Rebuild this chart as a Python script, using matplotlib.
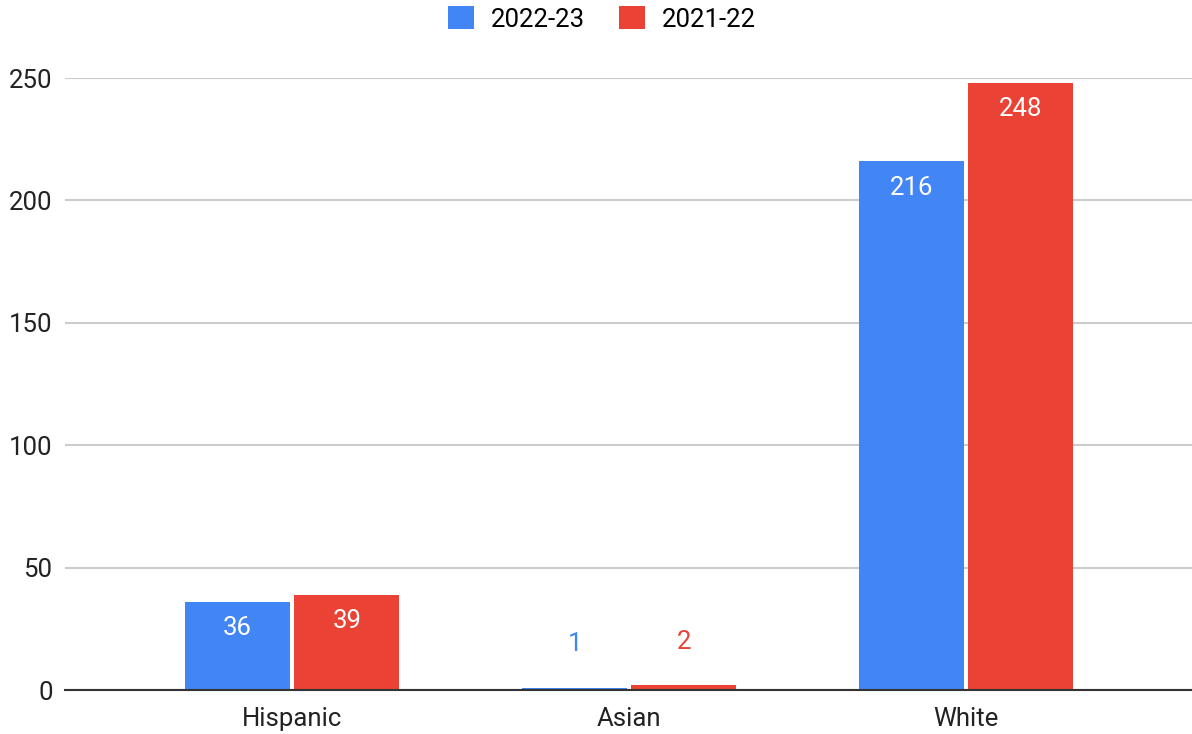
import numpy as np
import matplotlib
matplotlib.use('Agg')
import matplotlib.pyplot as plt
from matplotlib.patches import Patch

categories = ['Hispanic', 'Asian', 'White']
series_names = ['2022-23', '2021-22']
values_2022 = [36, 1, 216]
values_2021 = [39, 2, 248]
colors = ['#4285F4', '#EA4335']
y_ticks = [0, 50, 100, 150, 200, 250]

plt.rcParams['font.family'] = ['Roboto', 'DejaVu Sans']

fig = plt.figure(figsize=(11.92, 7.34), dpi=100)
ax = fig.add_axes([65 / 1192, 1 - 690 / 734, 1 - 65 / 1192, (690 - 78) / 734])

x = np.arange(len(categories))
width = 0.312
offset = 0.162
for vals, col, off in [(values_2022, colors[0], -offset), (values_2021, colors[1], offset)]:
    bars = ax.bar(x + off, vals, width, color=col, zorder=3)
    for b, v in zip(bars, vals):
        cx = b.get_x() + b.get_width() / 2
        if v > 20:
            ax.annotate(str(v), (cx, v), xytext=(0, -19), textcoords='offset points',
                        ha='center', va='center', color='white', fontsize=18.5, zorder=4)
        else:
            ax.annotate(str(v), (cx, v), xytext=(0, 31), textcoords='offset points',
                        ha='center', va='center', color=col, fontsize=18.5, zorder=4)

ax.set_xlim(-0.674, 2.67)
ax.set_ylim(0, 250)
ax.set_yticks(y_ticks)
ax.set_xticks(x)
ax.set_xticklabels(categories)
ax.tick_params(axis='both', length=0, labelsize=18.5, colors='#222222')
ax.tick_params(axis='y', pad=9)
ax.tick_params(axis='x', pad=12)
ax.yaxis.grid(True, color='#cccccc', linewidth=1.5, zorder=0)
for s in ['top', 'right', 'left']:
    ax.spines[s].set_visible(False)
ax.spines['bottom'].set_color('#333333')
ax.spines['bottom'].set_linewidth(1.5)
ax.spines['bottom'].set_zorder(5)

handles = [Patch(facecolor=c, label=n) for c, n in zip(colors, series_names)]
fig.legend(handles=handles, loc='center', bbox_to_anchor=(602 / 1192, 1 - 19 / 734),
           ncol=2, frameon=False, fontsize=18.5, handlelength=1.0, handleheight=1.0,
           handletextpad=0.65, columnspacing=1.35)

fig.savefig('out.png', dpi=100)
